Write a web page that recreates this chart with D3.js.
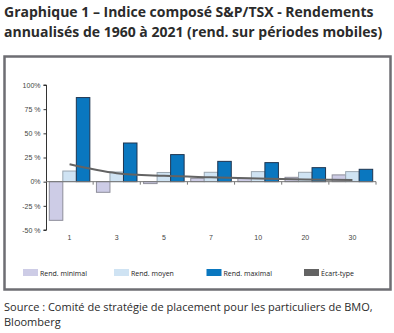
<!DOCTYPE html>
<html><head><meta charset="utf-8">
<script src="https://cdn.jsdelivr.net/npm/d3@7"></script>
<style>
body{margin:0;background:#fff;}
svg{display:block;}
</style></head>
<body>
<svg id="c" width="394" height="333"></svg>
<script>
const categories = ["1","3","5","7","10","20","30"];
const rendMinimal = [-40, -11, -2, 3.5, 3.5, 4.5, 7];
const rendMoyen = [11, 10, 9.5, 9.7, 10.4, 9.7, 10.4];
const rendMaximal = [87, 40, 28, 21, 19.7, 14.5, 12.8];
const ecartType = [18, 8.8, 6, 4.5, 3.2, 2.2, 1.8];
const yTickValues = [-50, -25, 0, 25, 50, 75, 100];
const yTickLabels = ["-50 %", "-25 %", "0%", "25 %", "50 %", "75 %", "100%"];
const seriesNames = ["Rend. minimal", "Rend. moyen", "Rend. maximal", "Écart-type"];
const seriesColors = ["#cdcce6", "#cfe3f3", "#0a77bf", "#636363"];

const svg = d3.select("#c");
const font = "'Liberation Sans', Arial, sans-serif";

// title
const title = svg.append("text").attr("font-family", "'Open Sans', sans-serif")
  .attr("font-weight", "bold").attr("font-size", 14).attr("fill", "#2b2b2b");
title.append("tspan").attr("x", 4).attr("y", 17).text("Graphique 1 – Indice composé S&P/TSX - Rendements");
title.append("tspan").attr("x", 4).attr("y", 37).text("annualisés de 1960 à 2021 (rend. sur périodes mobiles)");

// frame
svg.append("rect").attr("x", 4.5).attr("y", 56.5).attr("width", 386).attr("height", 233)
  .attr("fill", "none").attr("stroke", "#6e6e73").attr("stroke-width", 2.5);

const x = d3.scaleBand().domain(categories).range([46, 376]).paddingInner(0).paddingOuter(0);
const y = d3.scaleLinear().domain([-50, 100]).range([230, 85]);
const inner = d3.scaleBand().domain([0,1,2]).range([3.3, x.bandwidth()-3.3]).padding(0);

// y axis
const yAxis = d3.axisLeft(y).tickValues(yTickValues).tickSize(3)
  .tickFormat((d,i) => yTickLabels[i]);
const ya = svg.append("g").attr("transform", "translate(46.5,0)").call(yAxis);
ya.select(".domain").attr("stroke", "#333").attr("d", "M-3," + y(100) + "H0V" + y(-50) + "H-3");
ya.selectAll(".tick line").attr("stroke", "#333");
ya.selectAll(".tick text").attr("font-family", font).attr("font-size", 7).attr("fill", "#444").attr("x", -6);

// bars
const series = [rendMinimal, rendMoyen, rendMaximal];
const strokes = ["#8e8e9a", "#9aa6b0", "#1f3550"];
series.forEach((vals, si) => {
  svg.append("g").selectAll("rect").data(vals).join("rect")
    .attr("x", (d,i) => x(categories[i]) + inner(si))
    .attr("width", inner.bandwidth())
    .attr("y", d => y(Math.max(0, d)))
    .attr("height", d => Math.abs(y(d) - y(0)))
    .attr("fill", seriesColors[si])
    .attr("stroke", strokes[si]).attr("stroke-width", 1);
});

// x axis
const xa = svg.append("g").attr("transform", "translate(0," + y(0) + ")");
xa.append("line").attr("x1", 46).attr("x2", 376).attr("stroke", "#777").attr("stroke-width", 1);
xa.selectAll("line.t").data(d3.range(1, categories.length + 1)).join("line").attr("class","t")
  .attr("x1", i => 46 + i * x.bandwidth()).attr("x2", i => 46 + i * x.bandwidth())
  .attr("y1", 0).attr("y2", 3).attr("stroke", "#777");
svg.append("g").selectAll("text").data(categories).join("text")
  .attr("x", d => x(d) + x.bandwidth()/2).attr("y", 240)
  .attr("text-anchor", "middle").attr("font-family", font).attr("font-size", 7).attr("fill", "#444")
  .text(d => d);

// std dev line
const line = d3.line().x((d,i) => x(categories[i]) + x.bandwidth()/2).y(d => y(d)).curve(d3.curveMonotoneX);
svg.append("path").datum(ecartType).attr("d", line).attr("fill", "none")
  .attr("stroke", seriesColors[3]).attr("stroke-width", 2);

// legend
const legX = [23, 114, 206.5, 304];
const lg = svg.append("g").selectAll("g").data(seriesNames).join("g")
  .attr("transform", (d,i) => "translate(" + legX[i] + ",269)");
lg.append("rect").attr("width", 15).attr("height", 7).attr("fill", (d,i) => seriesColors[i]);
lg.append("text").attr("x", 17).attr("y", 6.5).attr("font-family", "'Open Sans', sans-serif")
  .attr("font-size", 7).attr("fill", "#222").text(d => d);

// source
const src = svg.append("text").attr("font-family", "'Open Sans', sans-serif").attr("font-size", 11).attr("fill", "#2b2b2b");
src.append("tspan").attr("x", 4).attr("y", 311).text("Source : Comité de stratégie de placement pour les particuliers de BMO,");
src.append("tspan").attr("x", 4).attr("y", 326).text("Bloomberg");
</script>
</body></html>
